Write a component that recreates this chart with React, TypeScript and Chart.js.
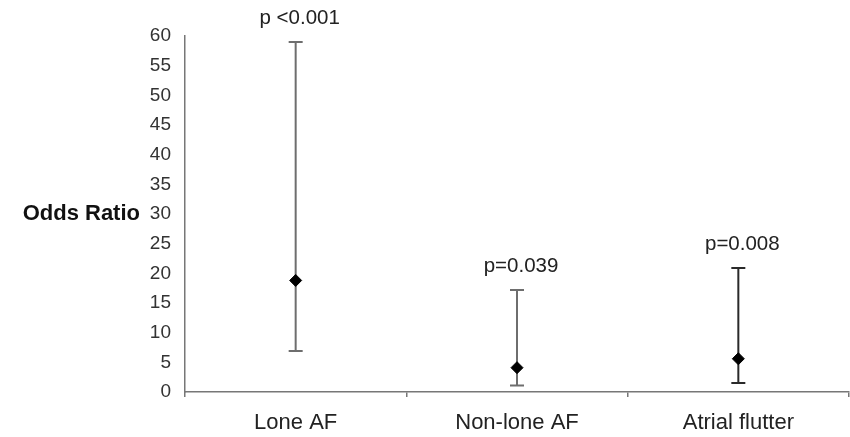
import { useEffect, useRef } from "react";
import { Chart, registerables } from "chart.js";
Chart.register(...registerables);

const categories = ["Lone AF", "Non-lone AF", "Atrial flutter"];
const oddsRatios = [18.8, 4.1, 5.6];
const lowerCI = [6.9, 1.1, 1.5];
const upperCI = [59.0, 17.2, 20.9];
const pLabels = ["p <0.001", "p=0.039", "p=0.008"];
const barColors = ["#6e6e6e", "#6e6e6e", "#2a2a2a"];
const yMin = 0;
const yMax = 60;
const yStep = 5;
const yTitle = "Odds Ratio";

const FONT = "'Liberation Sans', Arial, sans-serif";

const errorBarPlugin = {
  id: "errorBars",
  beforeDatasetsDraw(chart: any) {
    const { ctx, scales } = chart;
    const x = scales.x;
    const y = scales.y;
    ctx.save();
    categories.forEach((_, i) => {
      const px = x.getPixelForValue(i);
      const top = y.getPixelForValue(upperCI[i]);
      const bot = y.getPixelForValue(lowerCI[i]);
      ctx.strokeStyle = barColors[i];
      ctx.lineWidth = 2;
      ctx.beginPath();
      ctx.moveTo(px, top);
      ctx.lineTo(px, bot);
      ctx.moveTo(px - 7, top);
      ctx.lineTo(px + 7, top);
      ctx.moveTo(px - 7, bot);
      ctx.lineTo(px + 7, bot);
      ctx.stroke();
    });
    ctx.restore();
  },
  afterDatasetsDraw(chart: any) {
    const { ctx, scales, chartArea } = chart;
    const x = scales.x;
    const y = scales.y;
    ctx.save();
    ctx.fillStyle = "#222";
    ctx.font = `20.5px ${FONT}`;
    ctx.textAlign = "center";
    ctx.textBaseline = "middle";
    categories.forEach((_, i) => {
      const px = x.getPixelForValue(i);
      const top = y.getPixelForValue(upperCI[i]);
      ctx.fillText(pLabels[i], px + 4, top - 24);
    });
    ctx.font = `bold 22px ${FONT}`;
    ctx.textAlign = "right";
    ctx.fillStyle = "#111";
    ctx.fillText(yTitle, 140, (chartArea.top + chartArea.bottom) / 2);
    ctx.restore();
  },
};

export default function App() {
  const ref = useRef<HTMLCanvasElement>(null);
  useEffect(() => {
    if (!ref.current) return;
    const chart = new Chart(ref.current, {
      type: "line",
      data: {
        labels: categories,
        datasets: [
          {
            data: oddsRatios,
            showLine: false,
            pointStyle: "rectRot",
            pointRadius: 6,
            pointHoverRadius: 6,
            pointBackgroundColor: "#000",
            pointBorderColor: "#000",
            pointBorderWidth: 1,
          },
        ],
      },
      options: {
        responsive: false,
        animation: false,
        devicePixelRatio: 1,
        layout: { autoPadding: false, padding: { left: 0, right: 1, top: 36, bottom: 0 } },
        plugins: {
          legend: { display: false },
          tooltip: { enabled: false },
        },
        scales: {
          x: {
            type: "category",
            offset: true,
            grid: {
              display: true,
              drawOnChartArea: false,
              drawTicks: true,
              tickLength: 5,
              offset: true,
              color: "#777",
              lineWidth: 1.5,
            },
            border: { display: true, color: "#777", width: 1.5 },
            ticks: {
              font: { family: FONT, size: 22 },
              color: "#222",
              padding: 13,
              autoSkip: false,
              maxRotation: 0,
            },
            afterFit(scale: any) {
              scale.height = 45;
              scale.paddingLeft = 0;
              scale.paddingRight = 0;
            },
          },
          y: {
            min: yMin,
            max: yMax,
            grid: { display: false, drawTicks: false },
            border: { display: true, color: "#777", width: 1.5 },
            ticks: {
              stepSize: yStep,
              font: { family: FONT, size: 19 },
              color: "#333",
              padding: 14,
              autoSkip: false,
            },
            afterFit(scale: any) {
              scale.width = 185;
            },
          },
        },
      },
      plugins: [errorBarPlugin],
    });
    return () => chart.destroy();
  }, []);
  return (
    <div style={{ position: "absolute", left: 0, top: 0, width: 850, height: 437, background: "#fff" }}>
      <canvas ref={ref} width={850} height={437} />
    </div>
  );
}
